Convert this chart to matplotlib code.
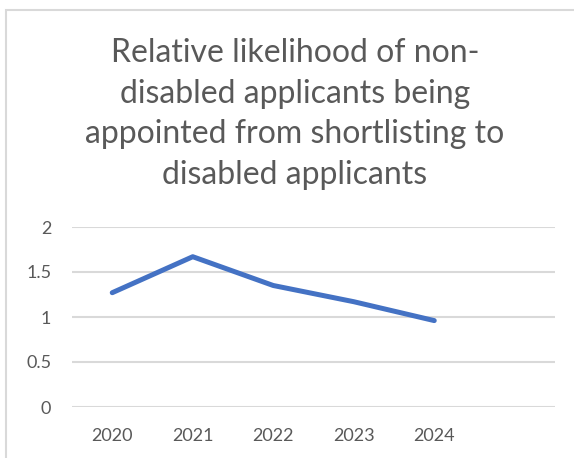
import matplotlib.pyplot as plt
from matplotlib.patches import Rectangle

# data
years = ['2020', '2021', '2022', '2023', '2024']
likelihood = [1.27, 1.67, 1.35, 1.17, 0.96]
y_ticks = [0, 0.5, 1, 1.5, 2]
y_tick_labels = ['0', '0.5', '1', '1.5', '2']
title = ('Relative likelihood of non-\ndisabled applicants being\n'
         'appointed from shortlisting to\ndisabled applicants')

text_grey = '#595959'
grid_grey = '#d9d9d9'
line_blue = '#4472c4'

plt.rcParams['font.family'] = ['Lato', 'DejaVu Sans']

fig = plt.figure(figsize=(5.74, 4.58), dpi=100)

# chart frame (cut off at right and bottom like the screenshot)
fig.patches.append(Rectangle((6 / 574, -0.1), 1.2, (458 - 10) / 458 + 0.1,
                             transform=fig.transFigure, fill=False,
                             edgecolor=grid_grey, linewidth=1.5))

ax = fig.add_axes([72 / 574, (458 - 407) / 458, (555 - 72) / 574, 180 / 458])

x = list(range(len(years)))
ax.plot(x, likelihood, color=line_blue, linewidth=3.6,
        solid_capstyle='round', solid_joinstyle='round', zorder=3)

ax.set_xlim(-0.5, 5.5)
ax.set_ylim(0, 2)
ax.set_yticks(y_ticks)
ax.set_yticklabels(y_tick_labels)
ax.set_xticks(x)
ax.set_xticklabels(years)
ax.tick_params(axis='both', length=0, labelsize=13, labelcolor=text_grey)
ax.tick_params(axis='y', pad=15)
ax.tick_params(axis='x', pad=15)
ax.yaxis.grid(True, color=grid_grey, linewidth=1.5)
ax.set_axisbelow(True)
for s in ax.spines.values():
    s.set_visible(False)

fig.text(295 / 574, 1 - 114 / 458, title, ha='center', va='center',
         fontsize=23, color=text_grey, linespacing=1.45)

plt.savefig('out.png', dpi=100)
